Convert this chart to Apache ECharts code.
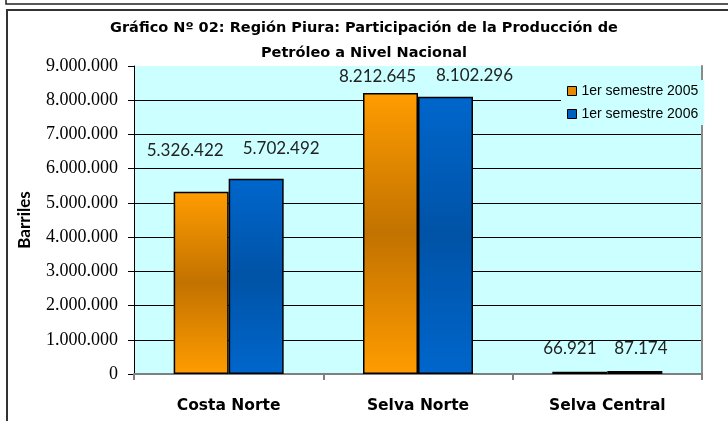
<!DOCTYPE html>
<html>
<head>
<meta charset="utf-8">
<script src="https://cdn.jsdelivr.net/npm/echarts@6/dist/echarts.min.js"></script>
<style>
  html, body { margin: 0; padding: 0; background: #fff; }
  #chart { width: 728px; height: 421px; }
</style>
</head>
<body>
<div id="chart"></div>
<script>
// datos
const categories = ["Costa Norte", "Selva Norte", "Selva Central"];
const seriesNames = ["1er semestre 2005", "1er semestre 2006"];
const sem2005 = [5326422, 8212645, 66921];
const sem2006 = [5702492, 8102296, 87174];
const yTicks = [0, 1000000, 2000000, 3000000, 4000000, 5000000, 6000000, 7000000, 8000000, 9000000];

// desplazamiento de etiquetas (como en el original de Excel)
const nudge2005 = [[-16, -33], [-13, -8], [-10, -15]];
const nudge2006 = [[25, -22], [29, -13], [6, -15]];

function fmt(v) {
  return String(v).replace(/\B(?=(\d{3})+(?!\d))/g, ".");
}

function buildData(values, nudge) {
  return values.map((v, i) => ({
    value: v,
    label: { offset: nudge[i] },
  }));
}

let myChart = echarts.init(document.getElementById("chart"));

let option = {
  backgroundColor: "#fff",
  animation: false,
  graphic: [
    {
      type: "rect",
      shape: { x: 6, y: -20, width: 800, height: 24 },
      style: { fill: "none", stroke: "#222", lineWidth: 1.5 },
    },
    {
      type: "rect",
      shape: { x: 7, y: 10, width: 800, height: 500 },
      style: { fill: "none", stroke: "#333", lineWidth: 2 },
    },
  ],
  title: {
    text: "Gráfico Nº 02: Región Piura: Participación de la Producción de\nPetróleo a Nivel Nacional",
    left: "center",
    top: 11,
    textStyle: {
      fontFamily: "DejaVu Sans",
      fontWeight: "bold",
      fontSize: 14.5,
      lineHeight: 25,
      color: "#000",
    },
  },
  legend: {
    orient: "vertical",
    left: 561,
    top: 80,
    padding: [4, 6, 4, 6],
    backgroundColor: "#ccffff",
    itemWidth: 9,
    itemHeight: 9,
    itemGap: 9,
    icon: "rect",
    itemStyle: { borderColor: "#000", borderWidth: 1 },
    textStyle: {
      fontFamily: "Liberation Sans",
      fontSize: 14,
      lineHeight: 14,
      color: "#000",
    },
    data: [
      { name: seriesNames[0], itemStyle: { color: "#e68a00" } },
      { name: seriesNames[1], itemStyle: { color: "#0060c0" } },
    ],
  },
  grid: {
    left: 134,
    right: 26,
    top: 66,
    bottom: 47,
    show: true,
    backgroundColor: "#ccffff",
    borderWidth: 0,
  },
  xAxis: {
    type: "category",
    data: categories,
    axisLine: { lineStyle: { color: "#808080", width: 2 } },
    axisTick: { show: true, length: 6, lineStyle: { color: "#808080", width: 2 } },
    axisLabel: {
      fontFamily: "DejaVu Sans",
      fontWeight: "bold",
      fontSize: 15.5,
      color: "#000",
      margin: 24,
    },
  },
  yAxis: [
    {
      type: "value",
      min: yTicks[0],
      max: yTicks[yTicks.length - 1],
      interval: yTicks[1] - yTicks[0],
      name: "Barriles",
      nameLocation: "middle",
      nameGap: 101,
      nameTextStyle: {
        fontFamily: "Lato",
        fontWeight: "bold",
        fontSize: 17,
        color: "#000",
      },
      axisLine: { show: true, lineStyle: { color: "#000", width: 1 } },
      axisTick: { show: true, length: 6, lineStyle: { color: "#000" } },
      axisLabel: {
        fontFamily: "Liberation Serif",
        fontSize: 18,
        color: "#000",
        margin: 16,
        formatter: (v) => fmt(v),
      },
      splitLine: {
        show: true,
        showMaxLine: false,
        lineStyle: { color: "#000", width: 1 },
      },
    },
    {
      type: "value",
      position: "right",
      min: yTicks[0],
      max: yTicks[yTicks.length - 1],
      axisLine: { show: true, lineStyle: { color: "#8a8a8a", width: 2 } },
      axisTick: { show: false },
      axisLabel: { show: false },
      splitLine: { show: false },
    },
  ],
  series: [
    {
      name: seriesNames[0],
      type: "bar",
      barWidth: 55,
      barGap: "0%",
      itemStyle: {
        borderColor: "#000",
        borderWidth: 1.5,
        color: {
          type: "linear",
          x: 0, y: 0, x2: 0, y2: 1,
          colorStops: [
            { offset: 0, color: "#ff9c00" },
            { offset: 0.5, color: "#c27200" },
            { offset: 1, color: "#ff9c00" },
          ],
        },
      },
      label: {
        show: true,
        position: "top",
        distance: 0,
        fontFamily: "Lato",
        fontSize: 17,
        lineHeight: 16,
        color: "#222",
        formatter: (p) => fmt(p.value),
      },
      data: buildData(sem2005, nudge2005),
    },
    {
      name: seriesNames[1],
      type: "bar",
      barWidth: 55,
      barGap: "0%",
      itemStyle: {
        borderColor: "#000",
        borderWidth: 1.5,
        color: {
          type: "linear",
          x: 0, y: 0, x2: 0, y2: 1,
          colorStops: [
            { offset: 0, color: "#0066cc" },
            { offset: 0.5, color: "#0053a6" },
            { offset: 1, color: "#0066cc" },
          ],
        },
      },
      label: {
        show: true,
        position: "top",
        distance: 0,
        fontFamily: "Lato",
        fontSize: 17,
        lineHeight: 16,
        color: "#222",
        formatter: (p) => fmt(p.value),
      },
      data: buildData(sem2006, nudge2006),
    },
  ],
};

myChart.setOption(option);
</script>
</body>
</html>
